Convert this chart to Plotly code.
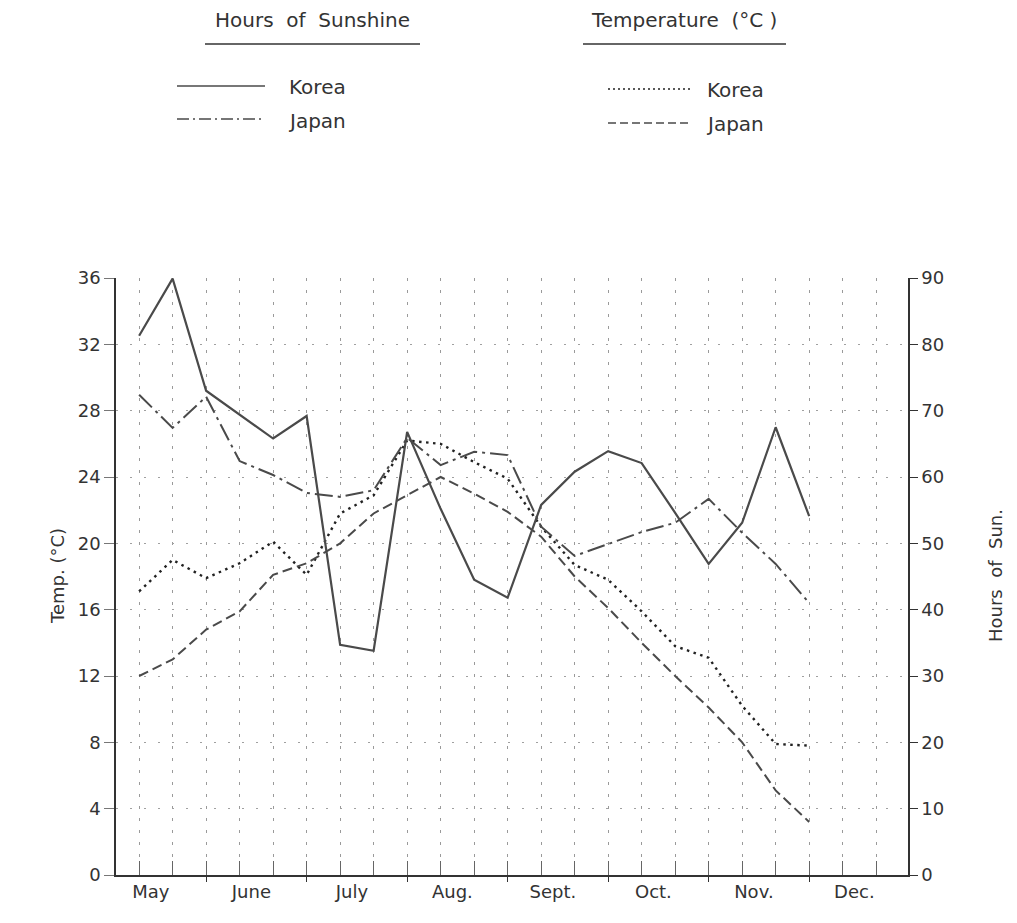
import plotly.graph_objects as go

# ---- data (dekads from early May to late Nov) ----
dekad = list(range(21))
korea_sun = [81.3, 89.9, 73.0, 69.4, 65.8, 69.2, 34.7, 33.8, 66.8, 55.2, 44.5,
             41.8, 55.8, 60.8, 63.9, 62.1, 54.6, 46.9, 53.1, 67.5, 54.1]
japan_sun = [72.4, 67.4, 72.1, 62.4, 60.3, 57.6, 57.0, 58.0, 65.9, 61.8, 63.8,
             63.3, 52.5, 48.1, 49.9, 51.7, 53.1, 56.7, 51.6, 46.9, 41.0]
korea_temp = [17.1, 19.0, 17.9, 18.8, 20.1, 18.1, 21.8, 22.9, 26.2, 26.0, 24.9,
              23.9, 21.0, 18.7, 17.8, 15.9, 13.8, 13.1, 10.2, 7.9, 7.8]
japan_temp = [12.0, 13.0, 14.8, 15.9, 18.1, 18.8, 20.0, 21.8, 22.9, 24.0, 23.0,
              21.9, 20.4, 18.0, 16.1, 14.0, 12.0, 10.1, 8.0, 5.1, 3.2]
months = ["May", "June", "July", "Aug.", "Sept.", "Oct.", "Nov.", "Dec."]
month_pos = [3 * i + 0.35 for i in range(len(months))]
temp_ticks = list(range(0, 37, 4))
sun_ticks = list(range(0, 91, 10))

# ---- geometry (page pixel coords; the page body has an 8px margin) ----
OFF = 8
W_FIG, H_FIG = 1017 - 2 * OFF, 923 - 2 * OFF
L, R, T, B = 116, 908, 278, 875
x0 = -0.69
x1 = 22.95

def px(xp):
    return (xp - L) / (R - L)

def py(yp):
    return (B - yp) / (B - T)

INK = "#333333"
LINE = "#4a4a4a"
FONT = "DejaVu Sans"

fig = go.Figure()
fig.add_trace(go.Scatter(x=dekad, y=korea_sun, yaxis="y2", mode="lines",
                         line=dict(color=LINE, width=2.2), name="Korea sunshine"))
fig.add_trace(go.Scatter(x=dekad, y=japan_sun, yaxis="y2", mode="lines",
                         line=dict(color=LINE, width=2, dash="18px,5px,3px,5px"),
                         name="Japan sunshine"))
fig.add_trace(go.Scatter(x=dekad, y=korea_temp, yaxis="y", mode="lines",
                         line=dict(color="#222222", width=2.4, dash="2.5px,4.5px"),
                         name="Korea temperature"))
fig.add_trace(go.Scatter(x=dekad, y=japan_temp, yaxis="y", mode="lines",
                         line=dict(color=LINE, width=2, dash="10px,5px"),
                         name="Japan temperature"))
# empty trace so the overlay x axis (month boundary ticks) is drawn
fig.add_trace(go.Scatter(x=[None], y=[None], xaxis="x2", showlegend=False))

fig.update_layout(
    width=W_FIG, height=H_FIG,
    margin=dict(l=L - OFF, r=W_FIG + OFF - R, t=T - OFF, b=H_FIG + OFF - B,
                pad=0, autoexpand=False),
    plot_bgcolor="white", paper_bgcolor="white",
    showlegend=False,
    font=dict(family=FONT, size=18, color=INK),
    xaxis=dict(range=[x0, x1], tickvals=month_pos, ticktext=months, ticks="",
               showgrid=False, zeroline=False, showline=True, linecolor=INK,
               linewidth=1.5, tickfont=dict(size=18),
               minor=dict(tickvals=list(range(23)), ticks="inside", ticklen=14,
                          tickcolor="#666", tickwidth=1, showgrid=True,
                          gridcolor="#9a9a9a", gridwidth=1, griddash="3px,9px")),
    xaxis2=dict(range=[x0, x1], overlaying="x", anchor="y", side="bottom",
                tickvals=[2, 5, 8, 11, 14, 17, 20], ticks="outside", ticklen=6,
                tickcolor=INK, showticklabels=False, showgrid=False,
                zeroline=False, showline=False),
    yaxis=dict(range=[0, 36], tickvals=temp_ticks, ticks="outside", ticklen=10,
               tickcolor="#777", showline=True, linecolor=INK, linewidth=1.5,
               showgrid=True, gridcolor="#a0a0a0", gridwidth=1,
               griddash="2px,12px", zeroline=False, tickfont=dict(size=18)),
    yaxis2=dict(range=[0, 90], tickvals=sun_ticks, overlaying="y", side="right",
                anchor="x", ticks="outside", ticklen=8, tickcolor=INK,
                showline=True, linecolor=INK, linewidth=1.5, showgrid=False,
                zeroline=False, tickfont=dict(size=18)),
)

# ---- axis titles and legend key block ----
ann = [
    dict(text="Temp. (°C)", x=px(57), y=py(576), textangle=-90, size=18),
    dict(text="Hours  of  Sun.", x=px(995), y=py(576), textangle=-90, size=18),
    dict(text="Hours  of  Sunshine", x=px(312), y=py(20), textangle=0, size=20),
    dict(text="Temperature  (°C )", x=px(684), y=py(20), textangle=0, size=20),
    dict(text="Korea", x=px(317), y=py(87), textangle=0, size=20),
    dict(text="Japan", x=px(317), y=py(121), textangle=0, size=20),
    dict(text="Korea", x=px(735), y=py(90), textangle=0, size=20),
    dict(text="Japan", x=px(735), y=py(124), textangle=0, size=20),
]
for a in ann:
    fig.add_annotation(xref="paper", yref="paper", showarrow=False,
                       xanchor="center", yanchor="middle", text=a["text"],
                       x=a["x"], y=a["y"], textangle=a["textangle"],
                       font=dict(family=FONT, size=a["size"], color=INK))

keys = [
    (205, 420, 44, "solid", 1.5, INK),
    (583, 786, 44, "solid", 1.5, INK),
    (177, 265, 86, "solid", 1.5, LINE),
    (177, 265, 119, "12px,4px,2px,4px", 1.5, LINE),
    (608, 690, 89, "2px,3px", 1.6, "#222"),
    (608, 690, 123, "8px,4px", 1.5, LINE),
]
for xa, xb, yy, dash, w, c in keys:
    fig.add_shape(type="line", xref="paper", yref="paper",
                  x0=px(xa), x1=px(xb), y0=py(yy), y1=py(yy),
                  line=dict(color=c, width=w, dash=dash))

fig.write_html("out.html")
